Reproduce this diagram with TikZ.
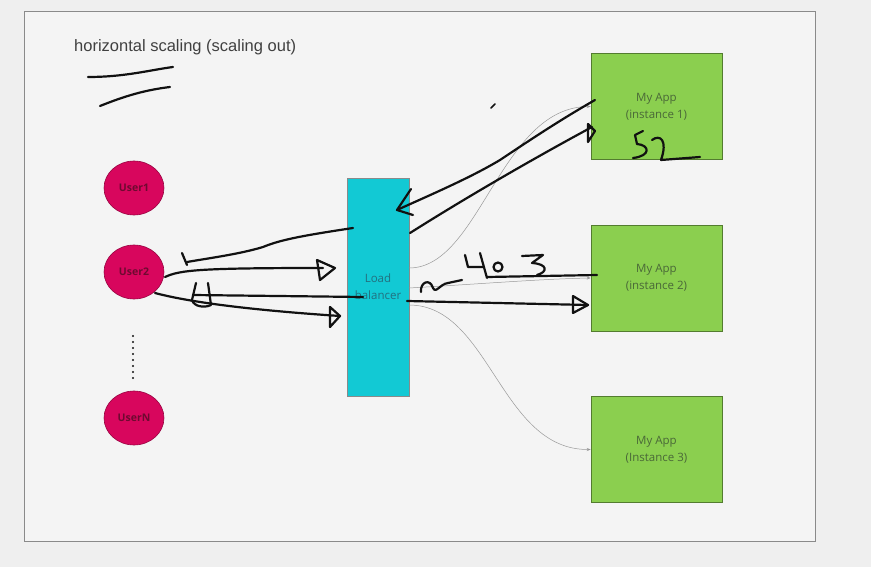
\documentclass[tikz,border=0pt]{standalone}
\usepackage{fontspec}
\setmainfont{Open Sans}
\newfontfamily\titlefont{Liberation Sans}
\usetikzlibrary{arrows.meta,shapes.geometric}
\definecolor{bgout}{HTML}{EFEFEF}
\definecolor{bgin}{HTML}{F4F4F4}
\definecolor{framec}{HTML}{8A8A8A}
\definecolor{userfill}{HTML}{D8065D}
\definecolor{usertext}{HTML}{6E0A30}
\definecolor{lbfill}{HTML}{12C9D4}
\definecolor{lbtext}{HTML}{23707F}
\definecolor{appfill}{HTML}{8BCF4F}
\definecolor{apptext}{HTML}{4A6838}
\definecolor{ink}{HTML}{111111}
\tikzset{
  userbox/.style={ellipse, draw=userfill!70!black, line width=0.6pt, fill=userfill, minimum width=60pt, minimum height=54pt, inner sep=0pt, font=\fontsize{10.5}{12}\selectfont\bfseries, text=usertext},
  lbbox/.style={draw=framec, line width=0.6pt, fill=lbfill, minimum width=62pt, minimum height=218pt, inner sep=0pt, font=\fontsize{11.5}{17}\selectfont, text=lbtext, align=center},
  appbox/.style={draw=appfill!60!black, line width=0.6pt, fill=appfill, minimum width=131pt, minimum height=106pt, inner sep=0pt, font=\fontsize{11.5}{17}\selectfont, text=apptext, align=center},
  thin/.style={draw=gray!80, line width=0.5pt, -{Stealth[length=4pt,width=3pt]}},
  hand/.style={draw=ink, line width=2.2pt, line cap=round, line join=round},
}
\begin{document}
\begin{tikzpicture}[x=1pt,y=-1pt]
\useasboundingbox (0,0) rectangle (871,567);
\fill[bgout] (0,0) rectangle (871,567);
\draw[framec, fill=bgin, line width=0.8pt] (24,11) rectangle (815,541);

\node[anchor=west, font=\titlefont\fontsize{16.5}{19}\selectfont, text=black!75, inner sep=0pt] (title) at (74,47) {horizontal scaling (scaling out)};
\draw[hand] (88,77) .. controls (125,77) and (150,70) .. (173,67);
\draw[hand] (100,106) .. controls (125,96) and (145,90) .. (170,87);

\node[userbox] (u1) at (134,188) {User1};
\node[userbox] (u2) at (134,272) {User2};
\node[userbox] (un) at (134,418) {UserN};
\foreach \k in {0,...,7} \fill[ink] (133,{336+6*\k}) circle (1.2pt);

\node[lbbox] (lb) at (378,287) {Load\\balancer};

\node[appbox] (a1) at (656.5,106.5) {My App\\(instance 1)};
\node[appbox] (a2) at (656.5,278) {My App\\(instance 2)};
\node[appbox] (a3) at (656.5,449.5) {My App\\(Instance 3)};

% thin gray connectors
\draw[thin] (409,268) .. controls (480,268) and (500,107) .. (a1.west);
\draw[thin] (409,288) .. controls (480,284) and (540,279) .. (a2.west);
\draw[thin] (409,305) .. controls (490,305) and (500,450) .. (a3.west);

% handwritten strokes
% LB -> User2 (back)
\draw[hand] (353,228) .. controls (300,236) and (280,240) .. (263,247) .. controls (240,254) and (210,258) .. (187,262);
\draw[hand] (182,253) -- (187,265);
% User2 -> LB upper
\draw[hand] (165,277) .. controls (180,270) and (200,268) .. (323,268);
\draw[hand] (317,260) -- (335,268) -- (320,280) -- cycle;
% User2 -> LB lower
\draw[hand] (155,293) .. controls (200,305) and (280,312) .. (340,316);
\draw[hand] (330,307) -- (340,316) -- (330,327) -- cycle;
% middle line
\draw[hand] (193,295) -- (363,297);
\draw[hand] (196,283) -- (192,300) .. controls (194,307) and (205,308) .. (211,305) -- (208,283);
% App1 -> LB
\draw[hand] (595,100) .. controls (560,120) and (530,140) .. (500,160) .. controls (470,178) and (430,195) .. (397,210);
\draw[hand] (411,189) -- (397,210) -- (413,215);
% LB -> App1
\draw[hand] (410,233) .. controls (470,195) and (540,155) .. (592,127);
\draw[hand] (588,124) -- (595,131) -- (588,142) -- cycle;
% LB -> App2
\draw[hand] (407,301) -- (588,305);
\draw[hand] (573,296) -- (588,305) -- (573,313) -- cycle;
% "4x3" scribble with line to App2
\draw[hand] (421,292) .. controls (420,282) and (430,278) .. (433,288) .. controls (436,294) and (440,284) .. (448,283) -- (462,280);
\draw[hand] (465,255) -- (468,267) -- (484,267);
\draw[hand] (480,253) -- (487,278);
\draw[hand] (498,267) circle (4.5pt);
\draw[hand] (522,256) -- (543,255) -- (532,263) .. controls (548,264) and (548,272) .. (537,275);
\draw[hand] (487,277) -- (597,275);
% "S2"
\draw[hand] (643,131) -- (635,135) -- (637,144) .. controls (650,145) and (651,156) .. (633,158);
\draw[hand] (652,140) .. controls (660,134) and (668,140) .. (661,160) -- (700,157);
% tiny tick
\draw[hand, line width=1.6pt] (491,108) -- (495,104);
\end{tikzpicture}
\end{document}
